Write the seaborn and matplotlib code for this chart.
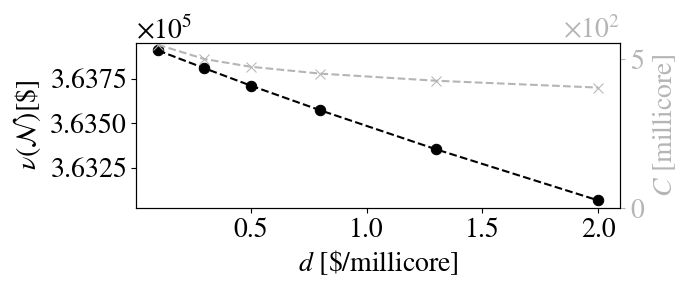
import pandas as pd
import seaborn as sns
import matplotlib
matplotlib.use("Agg")
import matplotlib.pyplot as plt

# values
d_values = [0.1, 0.3, 0.5, 0.8, 1.3, 2.0]
welfare = [363910, 363810, 363712, 363573, 363353, 363065]
capacity = [548, 500, 474, 451, 427, 404]

df = pd.DataFrame({"d": d_values, "welfare": welfare, "capacity": capacity})

sns.set_style("ticks")
plt.rcParams["font.family"] = ["STIXGeneral", "Liberation Serif", "DejaVu Serif"]
plt.rcParams["mathtext.fontset"] = "stix"
plt.rcParams["font.size"] = 20
for key in ("text.color", "axes.labelcolor", "xtick.color", "ytick.color",
            "axes.edgecolor"):
    plt.rcParams[key] = "black"

grey = "#b5b5b5"

fig, ax = plt.subplots(figsize=(6.9, 2.9), dpi=100)
sns.lineplot(data=df, x="d", y="welfare", ax=ax, color="black",
             linestyle="--", marker="o", markersize=7.5, markeredgecolor="black")
ax.ticklabel_format(axis="y", style="sci", scilimits=(5, 5), useOffset=False,
                    useMathText=True)
ax.set_yticks([363250, 363500, 363750])
ax.set_xticks([0.5, 1.0, 1.5, 2.0])
ax.set_xlabel(r"$d$ [\$/millicore]")
ax.set_ylabel(r"$\nu(\mathcal{N})$[\$]")
ax.tick_params(labelsize=20)

ax2 = ax.twinx()
sns.lineplot(data=df, x="d", y="capacity", ax=ax2, color=grey,
             linestyle="--", marker="x", markersize=7, markeredgecolor=grey)
ax2.set_ylim(0, 554)
ax2.set_yticks([0, 500])
ax2.ticklabel_format(axis="y", style="sci", scilimits=(2, 2), useOffset=False,
                     useMathText=True)
ax2.set_ylabel(r"$C$ [millicore]", color=grey)
ax2.tick_params(axis="y", colors=grey, labelsize=20)
ax2.yaxis.get_offset_text().set_color(grey)
ax2.spines["right"].set_color("black")

for a in (ax, ax2):
    a.yaxis.get_offset_text().set_fontsize(20)

plt.subplots_adjust(left=0.197, right=0.899, top=0.852, bottom=0.283)
plt.savefig("out.png", dpi=100)
